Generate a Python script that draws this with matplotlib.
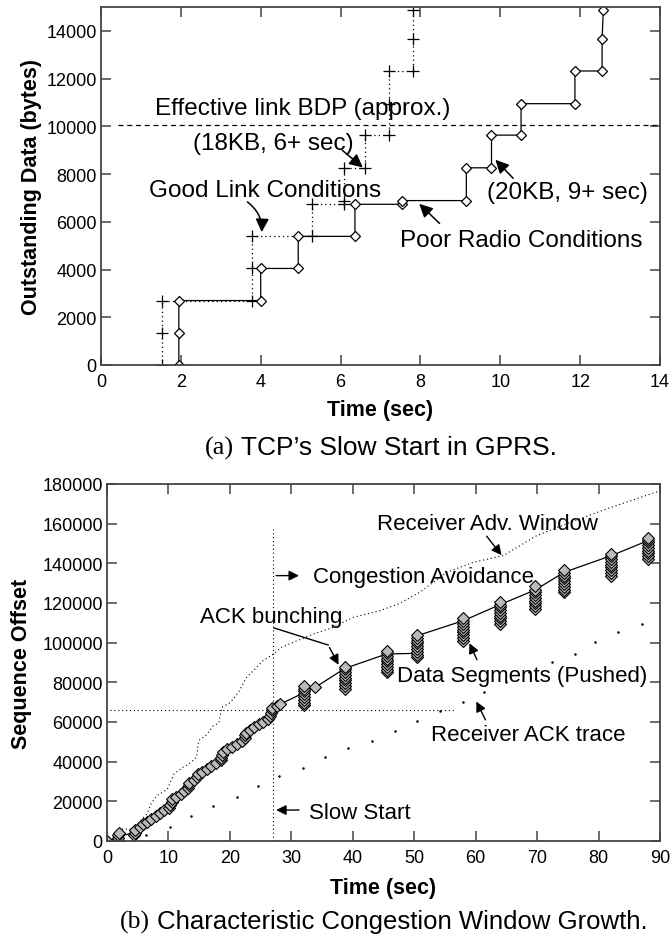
import matplotlib
matplotlib.use("Agg")
import matplotlib.pyplot as plt

plt.rcParams['font.family'] = ['Liberation Sans', 'DejaVu Sans']

# ---- (a) TCP slow start in GPRS ----
poor_t = [1.95, 1.95, 1.95, 4.00, 4.00, 4.94, 4.94, 6.36, 6.36, 7.55, 7.55, 9.15, 9.15,
          9.78, 9.78, 10.52, 10.52, 11.87, 11.87, 12.55, 12.55, 12.58]
poor_v = [0, 1344, 2700, 2700, 4045, 4045, 5390, 5390, 6733, 6733, 6888, 6888, 8261,
          8261, 9631, 9631, 10948, 10948, 12318, 12318, 13650, 14855]

good_t = [1.53, 1.53, 1.53, 3.79, 3.79, 3.79, 5.29, 5.29, 6.08, 6.08, 6.08, 6.61, 6.61,
          7.21, 7.21, 7.21, 7.82, 7.82, 7.82]
good_v = [0, 1344, 2700, 2700, 4045, 5390, 5390, 6733, 6733, 6888, 8261, 8261, 9631,
          9631, 10948, 12318, 12318, 13650, 14855]

bdp_level = 10050
bdp_span = [0.43, 14]

# ---- (b) congestion window growth ----
slow_t = [0, 1.8, 1.8, 1.8, 1.9, 4.4, 4.5, 4.6, 5.3, 5.9, 6.5, 7.2, 7.9, 8.6, 9.3,
          10.1, 10.3, 10.5, 10.6, 11.3, 12.0, 12.6, 13.2, 13.3, 13.4, 14.2, 14.7, 14.8,
          15.5, 16.3, 17.0, 17.7, 18.5, 18.6, 18.7, 18.8, 19.6, 20.4, 21.2, 22.0, 22.4,
          22.5, 22.6, 23.3, 24.0, 24.8, 25.4, 26.2, 26.6, 26.7, 26.8, 26.9, 27.6, 28.2]
slow_v = [0, 0, 1400, 2800, 4200, 2800, 4200, 5600, 7000, 8400, 9800, 11200, 12600,
          14000, 15400, 16800, 18200, 19600, 21000, 22400, 23800, 25200, 26600, 28000,
          29400, 30800, 32200, 33600, 35000, 36400, 37800, 39200, 40600, 42000, 43400,
          44800, 46200, 47600, 49000, 50400, 51800, 53200, 54600, 56000, 57400, 58800,
          60200, 61600, 63000, 64400, 65800, 67200, 68000, 69000]

burst_t = [32.0, 33.9, 38.7, 45.5, 50.5, 58.0, 64.0, 69.7, 74.4, 82.1, 88.0]
burst_v = [
    [68400, 69800, 71200, 72600, 74000, 75400, 76800, 78200],
    [77500],
    [76800, 78200, 79600, 81000, 82400, 83800, 85200, 86600, 87600],
    [85000, 86400, 87800, 89200, 90600, 92000, 93400, 94800, 96000],
    [92600, 94000, 95400, 96800, 98200, 99600, 101000, 102400, 103800],
    [101000, 102400, 103800, 105200, 106600, 108000, 109400, 110800, 112400],
    [109400, 110800, 112200, 113600, 115000, 116400, 117800, 119200, 120400],
    [117000, 118400, 119800, 121200, 122600, 124000, 125400, 126800, 128400],
    [125400, 126800, 128200, 129600, 131000, 132400, 133800, 135200, 136800],
    [133800, 135200, 136600, 138000, 139400, 140800, 142200, 143600, 144600],
    [142200, 143600, 145000, 146400, 147800, 149200, 150600, 152000, 153000],
]

line_t = [0, 1.8, 4.5, 10.5, 13.4, 18.7, 22.6, 26.8, 28.2, 33.9, 38.7, 45.5, 50.5,
          50.5, 58.0, 64.0, 69.7, 74.4, 82.1, 88.0]
line_v = [0, 2000, 4500, 19000, 28000, 42000, 53000, 65000, 69000, 77500, 87000, 94300,
          94600, 103500, 111100, 119200, 126600, 135500, 143900, 151400]

rwin_t = [1.8, 4.6, 5.5, 6.5, 7.2, 8.1, 9.8, 10.9, 12.3, 13.2, 14.6, 14.9, 16.2, 17.3,
          18.2, 18.7, 20.1, 21.4, 22.7, 24.1, 25.4, 27.1, 28.4, 33.6, 36.8, 40.1, 44.4,
          47.4, 50.9, 55.3, 59.6, 64.5, 69.9, 75.4, 81.3, 90.0]
rwin_v = [6000, 6000, 10500, 13600, 19000, 22800, 26000, 33800, 37100, 38500, 42200,
          50600, 53500, 58100, 59500, 67400, 69900, 75000, 82500, 86700, 91000, 94300,
          97700, 104400, 107700, 112800, 116100, 119500, 125400, 135500, 140500, 143900,
          153900, 160700, 167400, 176600]

ack_t = [6.3, 10.2, 13.7, 17.3, 21.1, 24.6, 28.0, 31.9, 35.5, 39.3, 43.2, 46.9, 50.5,
         54.2, 58.0, 61.4, 64.9, 68.6, 72.4, 76.2, 79.5, 83.1, 87.0]
ack_v = [3000, 7000, 12800, 17800, 22300, 27600, 32900, 36800, 42500, 46700, 50600,
         55600, 60700, 65700, 69900, 75000, 80000, 85000, 90100, 94300, 100200, 105200,
         109400]

ssthresh = 66050
ssthresh_span = [0.5, 56.6]
ca_start = 27.07
ca_top = 157300

fig = plt.figure(figsize=(6.71, 9.37), dpi=100)
ax1 = fig.add_axes([0.1505, 0.6094, 0.8331, 0.3821])
ax2 = fig.add_axes([0.1595, 0.1014, 0.8241, 0.3810])

spine_col = '#444444'
for ax in (ax1, ax2):
    for s in ax.spines.values():
        s.set_color(spine_col)
        s.set_linewidth(1.3)
    ax.tick_params(direction='in', length=7, width=1.1, color=spine_col, top=True,
                   right=True, labelsize=13)
    ax.tick_params(axis='x', pad=6)
    ax.tick_params(axis='y', pad=3)

dotted = (0, (1, 2.5))
arrow_big = dict(arrowstyle='-|>', color='black', lw=1.1, mutation_scale=20)
arrow_small = dict(arrowstyle='-|>', color='black', lw=1.0, mutation_scale=15)

# top panel
ax1.plot(good_t, good_v, color='black', lw=0.9, ls=dotted, marker='+', ms=8,
         mew=0.9)
ax1.plot(poor_t, poor_v, color='black', lw=0.9, marker='D', ms=5, mfc='white',
         mec='black', mew=0.9)
ax1.plot(bdp_span, [bdp_level, bdp_level], color='black', lw=0.9, ls=(0, (4, 3)))

ax1.set_xlim(0, 14)
ax1.set_ylim(0, 15000)
ax1.set_xticks(range(0, 15, 2))
ax1.set_yticks(range(0, 15000, 2000))
ax1.set_xlabel('Time (sec)', fontsize=15.5, fontweight='bold')
ax1.set_ylabel('Outstanding Data (bytes)', fontsize=15.5, fontweight='bold')
ax1.xaxis.set_label_coords(0.5, -0.095)
ax1.yaxis.set_label_coords(-0.106, 0.5)

fs_a = 17.5
ax1.text(5.06, 10750, 'Effective link BDP (approx.)', ha='center', va='center', fontsize=fs_a)
ax1.text(4.31, 9300, '(18KB, 6+ sec)', ha='center', va='center', fontsize=fs_a)
ax1.annotate('', xy=(6.61, 8200), xytext=(5.99, 9072), arrowprops=arrow_big)
ax1.text(4.11, 7330, 'Good Link Conditions', ha='center', va='center', fontsize=fs_a)
ax1.annotate('', xy=(4.02, 5450), xytext=(3.61, 6900),
             arrowprops=dict(arrow_big, connectionstyle='arc3,rad=-0.3'))
ax1.text(10.52, 5230, 'Poor Radio Conditions', ha='center', va='center', fontsize=fs_a)
ax1.annotate('', xy=(7.92, 6833), xytext=(8.53, 5850), arrowprops=arrow_big)
ax1.text(11.68, 7240, '(20KB, 9+ sec)', ha='center', va='center', fontsize=fs_a)
ax1.annotate('', xy=(9.83, 8680), xytext=(10.37, 7740), arrowprops=arrow_big)

# bottom panel
ax2.plot(rwin_t, rwin_v, color='black', lw=0.8, ls=dotted)
ax2.plot(ack_t, ack_v, ls='none', marker='.', ms=1.6, color='black')
ax2.plot(ssthresh_span, [ssthresh, ssthresh], color='black', lw=0.8, ls=dotted)
ax2.plot([ca_start, ca_start], [0, ca_top], color='black', lw=0.8, ls=dotted)
ax2.plot(line_t, line_v, color='black', lw=0.9)
ax2.plot(slow_t, slow_v, ls='none', marker='D', ms=6, mfc='#bbbbbb', mec='black',
         mew=0.8)
for bt, bv in zip(burst_t, burst_v):
    ax2.plot([bt] * len(bv), bv, ls='none', marker='D', ms=6, mfc='#bbbbbb',
             mec='black', mew=0.8)

ax2.set_xlim(0, 90)
ax2.set_ylim(0, 180000)
ax2.set_xticks(range(0, 91, 10))
ax2.set_yticks(range(0, 180001, 20000))
ax2.set_xlabel('Time (sec)', fontsize=15.5, fontweight='bold')
ax2.set_ylabel('Sequence Offset', fontsize=15.5, fontweight='bold')
ax2.xaxis.set_label_coords(0.5, -0.1)
ax2.yaxis.set_label_coords(-0.136, 0.5)

fs_b = 16
ax2.text(62.0, 160000, 'Receiver Adv. Window', ha='center', va='center', fontsize=fs_b)
ax2.annotate('', xy=(64.5, 143000), xytext=(61.5, 154800), arrowprops=arrow_small)
ax2.text(51.5, 133500, 'Congestion Avoidance', ha='center', va='center', fontsize=fs_b)
ax2.annotate('', xy=(31.7, 133800), xytext=(ca_start, 133800), arrowprops=arrow_small)
ax2.text(26.65, 113000, 'ACK bunching', ha='center', va='center', fontsize=fs_b)
ax2.plot([27.2, 36.0], [107400, 98800], color='black', lw=1.0)
ax2.annotate('', xy=(37.9, 87580), xytext=(36.0, 98800), arrowprops=arrow_small)
ax2.text(67.5, 83600, 'Data Segments (Pushed)', ha='center', va='center', fontsize=fs_b)
ax2.annotate('', xy=(58.8, 101000), xytext=(60.4, 90100), arrowprops=arrow_small)
ax2.text(68.6, 53500, 'Receiver ACK trace', ha='center', va='center', fontsize=fs_b)
ax2.annotate('', xy=(59.9, 71600), xytext=(61.8, 59800), arrowprops=arrow_small)
ax2.text(41.2, 14600, 'Slow Start', ha='center', va='center', fontsize=fs_b)
ax2.annotate('', xy=(ca_start, 15600), xytext=(31.7, 15600), arrowprops=arrow_small)


def caption(y, tag, body, cx, size):
    r = fig.canvas.get_renderer()
    t1 = fig.text(0, y, tag, family='Liberation Serif', fontsize=size, va='baseline')
    t2 = fig.text(0, y, body, family='Liberation Sans', fontsize=size, va='baseline')
    w1 = t1.get_window_extent(r).width / fig.bbox.width
    w2 = t2.get_window_extent(r).width / fig.bbox.width
    x0 = cx - (w1 + w2) / 2
    t1.set_x(x0)
    t2.set_x(x0 + w1)


caption(1 - 455 / 937, '(a)', ' TCP\u2019s Slow Start in GPRS.', 380.5 / 671, 19)
caption(1 - 929 / 937, '(b)', ' Characteristic Congestion Window Growth.', 383.5 / 671, 18.5)

fig.savefig('out.png', dpi=100)
